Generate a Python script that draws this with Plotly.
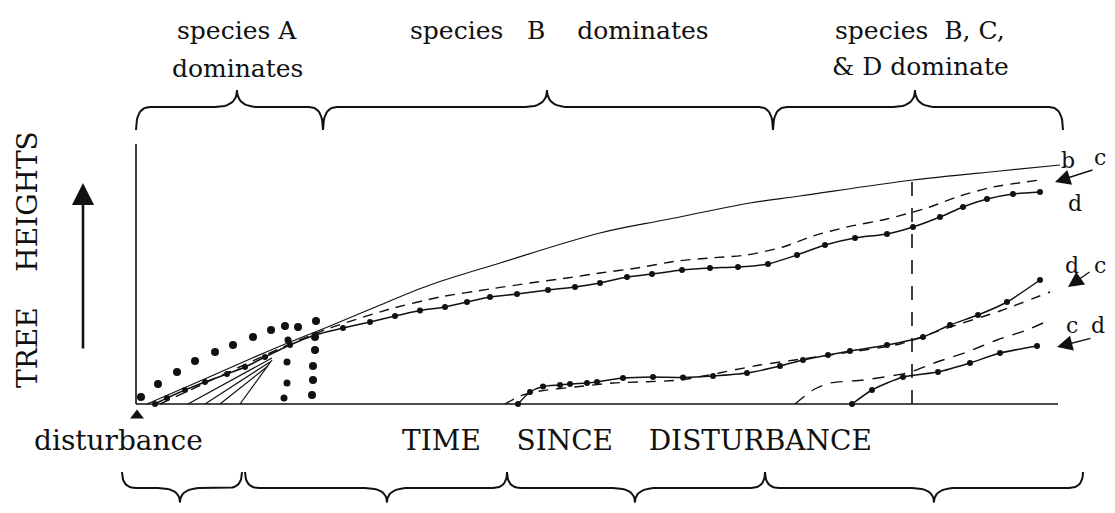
import plotly.graph_objects as go

# ---------------- data (time since disturbance, tree height; arbitrary units) ----------------
# species b (solid line)
b_t = [1.1, 6.4, 11.4, 15.4, 19.4, 23.7, 29.4, 36.4, 46.4, 53.1, 61.4, 66.4, 77.7, 86.4, 92.4]
b_h = [0, 9.2, 18.0, 24.8, 31.2, 38.4, 47.6, 56.4, 68.4, 73.8, 80.4, 83.2, 89.6, 93.2, 95.6]

# species c, first cohort (dashed)
c1_t = [2.4, 15.4, 19.4, 25.4, 30.4, 35.4, 39.4, 43.1, 46.4, 50.1, 54.1, 57.4, 61.1, 64.7,
        67.7, 71.1, 75.1, 79.1, 82.4, 85.7, 90.4]
c1_h = [0, 24.0, 30.4, 38.0, 42.8, 46.0, 48.4, 50.4, 52.4, 54.4, 57.2, 58.4, 59.6, 62.8,
        67.2, 70.8, 74.0, 78.4, 83.2, 86.8, 89.6]

# species d, first cohort (line with dots)
d1_t = [1.9, 3.1, 4.9, 6.9, 9.1, 10.9, 12.9, 15.4, 17.9, 20.7, 23.4, 25.9, 28.4, 30.9, 33.1,
        35.4, 38.1, 41.2, 43.9, 46.4, 49.1, 51.6, 54.6, 57.4, 60.2, 63.2, 66.1, 68.9, 71.9,
        75.1, 77.7, 80.4, 82.7, 85.1, 87.7, 90.4]
d1_h = [0, 2.4, 5.6, 8.8, 12.0, 14.8, 18.8, 23.6, 27.6, 30.4, 32.8, 35.2, 37.4, 38.8, 40.8,
        42.8, 44.0, 45.6, 46.8, 48.4, 50.8, 52.0, 53.6, 54.4, 54.8, 56.0, 59.6, 63.6, 66.4,
        68.0, 70.8, 74.8, 78.8, 82.0, 84.0, 84.8]

# species A (large dots), two trees dying out
a1_t = [0.5, 2.2, 4.1, 5.9, 7.9, 9.7, 11.7, 13.5, 14.9, 16.2, 18.0, 17.9, 17.9, 17.7, 17.7, 17.6]
a1_h = [2.8, 8.0, 12.8, 17.2, 20.8, 23.6, 26.8, 29.6, 31.2, 30.8, 33.2, 26.8, 21.6, 15.2, 9.6, 3.6]
a2_t = [15.2, 15.1, 15.1, 14.8]
a2_h = [25.6, 16.8, 8.4, 2.4]

# suppressed early stems (short solid lines)
s_t0 = [5.2, 6.9, 8.4, 10.4]
s_t1 = [13.6, 13.4, 13.2, 13.6]
s_h1 = [18.4, 16.8, 15.2, 17.6]

# second cohort
d2_t = [38.2, 39.4, 40.7, 42.4, 43.4, 45.1, 46.1, 48.7, 51.7, 54.7, 57.7, 61.1, 64.4, 66.7,
        69.2, 71.4, 75.1, 78.7, 81.4, 84.2, 87.1, 90.4]
d2_h = [0, 4.8, 7.0, 7.6, 8.0, 8.4, 8.8, 10.4, 10.8, 10.6, 11.2, 12.4, 15.2, 17.6,
        19.6, 21.2, 23.6, 26.8, 31.6, 35.6, 40.8, 49.6]
c2_t = [36.9, 38.4, 40.4, 43.9, 47.7, 54.4, 62.4, 69.4, 76.4, 81.1, 86.4, 91.4]
c2_h = [0, 3.2, 5.2, 6.8, 8.4, 9.6, 15.6, 19.6, 24.0, 30.4, 37.2, 44.8]

# third cohort
c3_t = [65.9, 67.7, 69.4, 72.7, 77.1, 80.1, 83.1, 86.1, 89.1, 90.7]
c3_h = [0, 5.6, 8.4, 9.6, 12.4, 16.8, 20.8, 25.6, 29.6, 32.4]
d3_t = [71.6, 73.6, 76.7, 80.2, 83.4, 86.4, 90.1]
d3_h = [0, 5.6, 10.8, 12.8, 16.4, 20.4, 23.2]

# vertical marker line
vmark_t = [77.6, 77.6]
vmark_h = [0, 89.0]

# axes extents
x_axis_end = 92.2
y_axis_top = 104.0

# stage braces (top): start, tip, end
top_start = [0.0, 18.7, 63.7]
top_tip = [10.1, 41.1, 77.9]
top_end = [18.7, 63.7, 92.7]
top_labels = [["species A", "dominates"],
              ["species\u00a0\u00a0\u00a0B\u00a0\u00a0\u00a0\u00a0dominates"],
              ["species\u00a0\u00a0B,\u00a0C,", "&\u00a0D\u00a0dominate"]]
# stage braces (bottom)
bot_start = [-1.4, 10.9, 37.1, 62.9]
bot_tip = [4.4, 25.1, 49.9, 79.8]
bot_end = [10.6, 37.1, 62.9, 94.7]

# curve end labels
end_lab_text = ["b", "c", "d", "d", "c", "c", "d"]
end_lab_t = [93.2, 96.4, 93.9, 93.6, 96.4, 93.6, 96.2]
end_lab_h = [97.6, 98.8, 80.4, 55.6, 55.6, 31.6, 31.6]
# pointer arrows from labels (tail -> tip)
ptr_tail_t = [95.8, 95.5, 95.6]
ptr_tail_h = [93.8, 53.2, 26.4]
ptr_tip_t = [91.9, 93.2, 92.1]
ptr_tip_h = [88.8, 46.8, 22.8]

INK = "#111111"
FONT = "DejaVu Serif"

fig = go.Figure()


def line(t, h, dash="solid", width=1.4, markers=False, msize=7, shape="spline", smooth=0.6):
    fig.add_trace(go.Scatter(
        x=t, y=h, mode="lines+markers" if markers else "lines",
        line=dict(color=INK, width=width, dash=dash, shape=shape, smoothing=smooth),
        marker=dict(color=INK, size=msize),
        hoverinfo="skip"))


# axes
line([0, 0], [0, y_axis_top], width=1.6, shape="linear")
line([0, x_axis_end], [0, 0], width=1.6, shape="linear")

# curves
line(b_t, b_h, width=1.2, smooth=1.0)
line(c1_t, c1_h, dash="10px,7px", width=1.4)
line(d1_t, d1_h, markers=True, msize=6, width=1.5)
for i in range(len(s_t0)):
    line([s_t0[i], s_t1[i]], [0, s_h1[i]], width=1.2, shape="linear")
fig.add_trace(go.Scatter(x=a1_t, y=a1_h, mode="markers",
                         marker=dict(color=INK, size=8), hoverinfo="skip"))
fig.add_trace(go.Scatter(x=a2_t, y=a2_h, mode="markers",
                         marker=dict(color=INK, size=7), hoverinfo="skip"))
line(d2_t, d2_h, markers=True, msize=6, width=1.5)
line(c2_t, c2_h, dash="10px,8px", width=1.4)
line(c3_t, c3_h, dash="12px,9px", width=1.4)
line(d3_t, d3_h, markers=True, msize=6, width=1.5)
line(vmark_t, vmark_h, dash="14px,12px", width=1.6, shape="linear")


def brace(x0, xm, x1, yb, yt, ye, r=1.4, rt=2.2, n=12):
    xs, ys = [], []

    def quad(p0, p1, p2):
        for k in range(n + 1):
            u = k / n
            xs.append((1 - u) ** 2 * p0[0] + 2 * (1 - u) * u * p1[0] + u ** 2 * p2[0])
            ys.append((1 - u) ** 2 * p0[1] + 2 * (1 - u) * u * p1[1] + u ** 2 * p2[1])

    quad((x0, ye), (x0, yb), (x0 + r, yb))
    quad((xm - rt, yb), (xm, yb), (xm, yt))
    quad((xm, yt), (xm, yb), (xm + rt, yb))
    quad((x1 - r, yb), (x1, yb), (x1, ye))
    fig.add_trace(go.Scatter(x=xs, y=ys, mode="lines",
                             line=dict(color=INK, width=2.0), hoverinfo="skip"))


for i in range(len(top_start)):
    brace(top_start[i], top_tip[i], top_end[i], 118.8, 125.6, 109.6)
for i in range(len(bot_start)):
    brace(bot_start[i], bot_tip[i], bot_end[i], -33.6, -39.4, -27.2)

# disturbance marker
fig.add_trace(go.Scatter(x=[0.1], y=[-4.6], mode="markers",
                         marker=dict(symbol="triangle-up", size=12, color=INK),
                         hoverinfo="skip"))

ann = []
# top stage labels
top_pos = [(10.1, [149.6, 134.4]), (42.3, [149.6]), (78.4, [149.6, 135.2])]
for (tx, ys), labs in zip(top_pos, top_labels):
    for yy, s in zip(ys, labs):
        ann.append(dict(x=tx, y=yy, text=s, showarrow=False,
                        font=dict(family=FONT, size=25, color=INK)))

ann.append(dict(x=-1.8, y=-14.4, text="disturbance", showarrow=False,
                font=dict(family=FONT, size=28, color=INK)))
ann.append(dict(x=50.1, y=-14.4,
                text="TIME\u00a0\u00a0\u00a0\u00a0SINCE\u00a0\u00a0\u00a0\u00a0DISTURBANCE",
                showarrow=False, font=dict(family=FONT, size=28, color=INK)))
ann.append(dict(x=-10.9, y=57.6, text="TREE\u00a0\u00a0\u00a0\u00a0HEIGHTS", textangle=-90,
                showarrow=False, font=dict(family=FONT, size=28, color=INK)))
# height arrow
ann.append(dict(x=-5.3, y=88.4, ax=-5.3, ay=21.6, axref="x", ayref="y",
                text="", showarrow=True, arrowhead=2, arrowsize=1.7,
                arrowwidth=2.6, arrowcolor=INK))
# end labels
for s, tx, ty in zip(end_lab_text, end_lab_t, end_lab_h):
    ann.append(dict(x=tx, y=ty, text=s, showarrow=False,
                    font=dict(family=FONT, size=22, color=INK)))
for i in range(len(ptr_tip_t)):
    ann.append(dict(x=ptr_tip_t[i], y=ptr_tip_h[i], ax=ptr_tail_t[i], ay=ptr_tail_h[i],
                    axref="x", ayref="y", text="", showarrow=True, arrowhead=2,
                    arrowsize=2.2, arrowwidth=1.4, arrowcolor=INK))

# page body has an 8px margin; the figure is sized to fit inside it
fig.update_layout(
    width=1107, height=505,
    margin=dict(l=0, r=0, t=0, b=0),
    paper_bgcolor="white", plot_bgcolor="white",
    showlegend=False,
    xaxis=dict(range=[-12.8, 97.9], visible=False, fixedrange=True),
    yaxis=dict(range=[-43.6, 158.4], visible=False, fixedrange=True),
    annotations=ann,
)

fig.write_html("out.html")
